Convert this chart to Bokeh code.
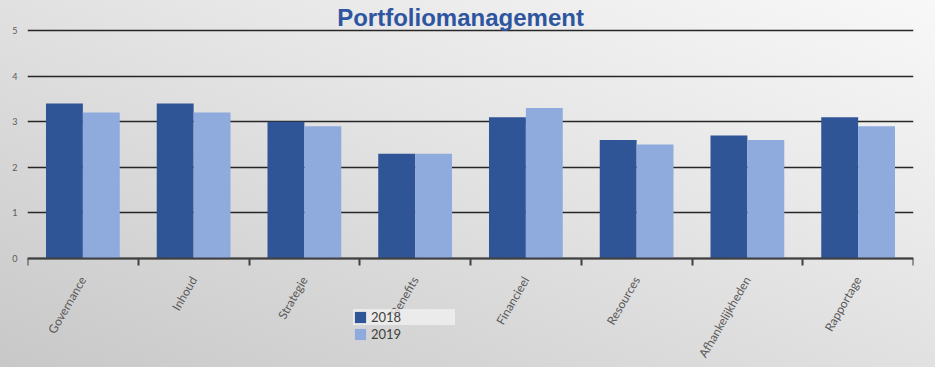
import math
from bokeh.plotting import figure
from bokeh.models import (ColumnDataSource, Range1d, LinearAxis, FixedTicker, Legend, LegendItem, Label)
from bokeh.embed import file_html
from bokeh.resources import INLINE

categories = ["Governance", "Inhoud", "Strategie", "Benefits", "Financieel",
              "Resources", "Afhankelijkheden", "Rapportage"]
values_2018 = [3.4, 3.4, 3.0, 2.3, 3.1, 2.6, 2.7, 3.1]
values_2019 = [3.2, 3.2, 2.9, 2.3, 3.3, 2.5, 2.6, 2.9]
series_names = ["2018", "2019"]
y_ticks = [0, 1, 2, 3, 4, 5]
title_text = "Portfoliomanagement"

n = len(categories)
centers = [i + 0.5 for i in range(n)]
bar_w = 0.333
source = ColumnDataSource(dict(
    x1=[c - bar_w / 2 for c in centers], x2=[c + bar_w / 2 for c in centers],
    v2018=values_2018, v2019=values_2019))

p = figure(width=935, height=367,
           x_range=Range1d(0, n), y_range=Range1d(-2.39, 5.658),
           output_backend="svg", toolbar_location=None,
           x_axis_location=None, y_axis_location=None,
           min_border_left=27, min_border_right=22, min_border_top=0, min_border_bottom=0,
           styles={"background-image": "linear-gradient(to bottom left, #f8f8f8 0%, #e6e6e6 40%, #c8c8c8 100%)"})
p.border_fill_color = None
p.background_fill_color = None
p.outline_line_color = None

# y axis
yax = LinearAxis(ticker=FixedTicker(ticks=y_ticks), axis_line_color=None,
                 major_tick_out=0, major_tick_in=0, minor_tick_out=0, minor_tick_in=0,
                 major_label_standoff=10, major_label_text_font_size="9px",
                 major_label_text_color="#595959", major_label_text_font="Lato")
p.add_layout(yax, "left")
p.xgrid.visible = False
p.ygrid.ticker = FixedTicker(ticks=y_ticks)
p.ygrid.grid_line_color = "#262626"
p.ygrid.grid_line_width = 1.5

# boundary ticks axis (category separators)
bounds = list(range(n + 1))
tick_ax = LinearAxis(ticker=FixedTicker(ticks=bounds), fixed_location=0,
                     major_label_overrides={b: "" for b in bounds},
                     major_tick_out=7, major_tick_in=0, minor_tick_out=0, minor_tick_in=0,
                     major_label_text_font_size="1px", major_label_standoff=0,
                     axis_line_color="#404040", axis_line_width=2,
                     major_tick_line_color="#404040", major_tick_line_width=2)
p.add_layout(tick_ax, "below")

lab_ax = LinearAxis(ticker=FixedTicker(ticks=centers), fixed_location=0,
                    major_label_overrides={c: name for c, name in zip(centers, categories)},
                    major_tick_line_color=None, minor_tick_line_color=None, axis_line_color=None,
                    major_label_orientation=math.pi / 3, major_label_standoff=13,
                    major_label_text_font_size="12px", major_label_text_color="#595959",
                    major_label_text_font="Lato")
p.add_layout(lab_ax, "below")

r1 = p.vbar(x="x1", top="v2018", width=bar_w, source=source, fill_color="#2F5597", line_color=None)
r2 = p.vbar(x="x2", top="v2019", width=bar_w, source=source, fill_color="#8FAADC", line_color=None)

legend_style = dict(glyph_width=14, glyph_height=14, spacing=4, padding=2,
                    label_standoff=4, label_text_font_size="13px", label_text_font="Lato",
                    label_text_color="#404040", label_height=14, border_line_color=None)
legend1 = Legend(items=[LegendItem(label=series_names[0], renderers=[r1])],
                 location=(326, 42), label_width=84,
                 background_fill_color="#f2f2f2", background_fill_alpha=0.75, **legend_style)
legend2 = Legend(items=[LegendItem(label=series_names[1], renderers=[r2])],
                 location=(326, 25), background_fill_alpha=0, **legend_style)
p.add_layout(legend1)
p.add_layout(legend2)

title = Label(x=3.91, y=5.28, text=title_text,
              text_align="center", text_baseline="alphabetic",
              text_font="Liberation Sans", text_font_style="bold", text_font_size="24px",
              text_color="#2E55A0")
p.add_layout(title)

open("out.html", "w").write(file_html(p, INLINE))
